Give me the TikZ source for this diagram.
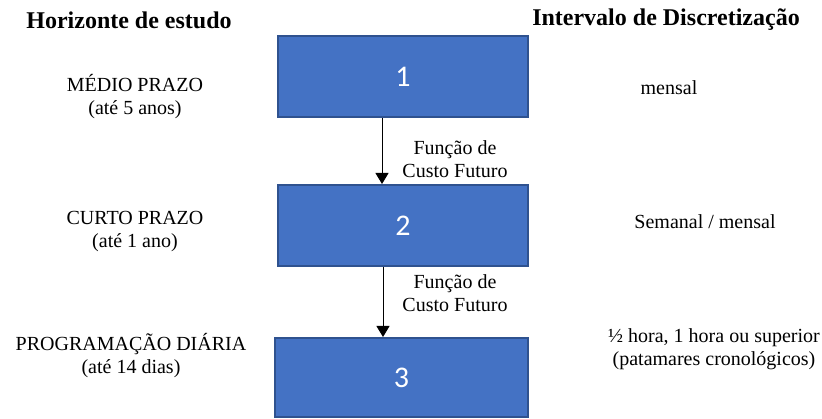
\documentclass[tikz,border=0pt]{standalone}
\usepackage{fontspec}
\setmainfont{Liberation Serif}
\newfontfamily\numfont{Carlito}
\usetikzlibrary{arrows.meta}
\definecolor{boxfill}{HTML}{4472C4}
\definecolor{boxline}{HTML}{2F528F}
\tikzset{
  stagebox/.style={draw=boxline, fill=boxfill, line width=2pt, minimum width=250pt,
    text=white, font=\numfont\fontsize{30}{34}\selectfont, inner sep=0pt},
  lbl/.style={align=center, font=\fontsize{20}{23}\selectfont, inner sep=0pt},
  hdr/.style={font=\bfseries\fontsize{24}{28}\selectfont, inner sep=0pt},
  flow/.style={line width=1pt, -{Triangle[width=13pt,length=11pt]}}
}
\begin{document}
\begin{tikzpicture}[x=1pt,y=-1pt]
\useasboundingbox (0,0) rectangle (822,419);
\node[hdr] (h1) at (129,20) {Horizonte de estudo};
\node[hdr] (h2) at (666,20) {Intervalo de Discretização};
\node[stagebox, minimum height=81pt] (b1) at (403,76.5) {1};
\node[stagebox, minimum height=81pt] (b2) at (403,225.5) {2};
\node[stagebox, minimum height=79pt, minimum width=253pt] (b3) at (401.5,377.5) {3};
\node[lbl] (l1) at (135,97) {MÉDIO PRAZO\\(até 5 anos)};
\node[lbl] (l2) at (135,232) {CURTO PRAZO\\(até 1 ano)};
\node[lbl] (l3) at (131,356) {PROGRAMAÇÃO DIÁRIA\\(até 14 dias)};
\node[lbl] (r1) at (669,88) {mensal};
\node[lbl] (r2) at (705,222) {Semanal / mensal};
\node[lbl] (r3) at (714,349) {½ hora, 1 hora ou superior\\(patamares cronológicos)};
\node[lbl] (f1) at (455,159.5) {Função de\\Custo Futuro};
\node[lbl] (f2) at (455,293.5) {Função de\\Custo Futuro};
\draw[flow] ([xshift=-21pt]b1.south) -- ([xshift=-21pt]b2.north);
\draw[flow] ([xshift=-20pt]b2.south) -- ([xshift=-18.5pt]b3.north);
\end{tikzpicture}
\end{document}
